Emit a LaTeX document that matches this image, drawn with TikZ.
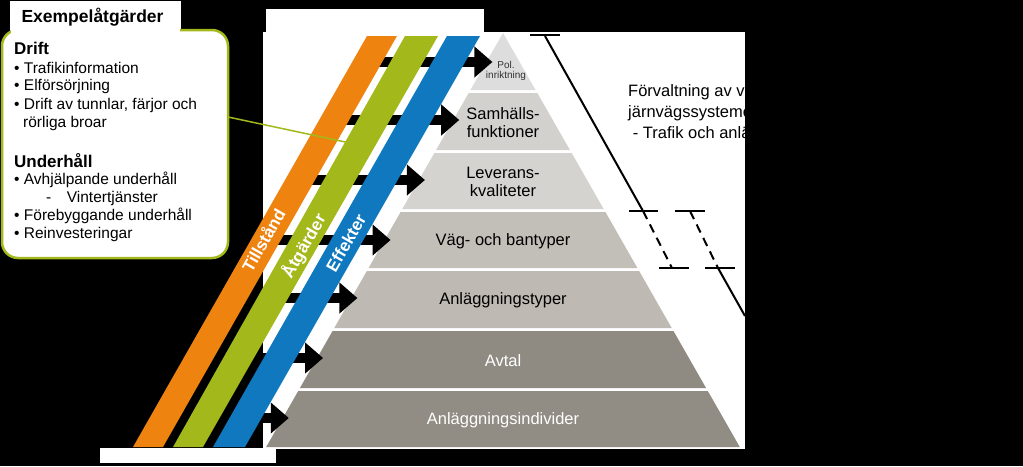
\documentclass[tikz,border=0pt]{standalone}
\usepackage{fontspec}
\setmainfont{Liberation Sans}
\usetikzlibrary{arrows.meta}

\definecolor{tsorange}{HTML}{EE8310}
\definecolor{tsgreen}{HTML}{A3B81A}
\definecolor{tsblue}{HTML}{0F78BE}

\begin{document}
\begin{tikzpicture}[
  x=1pt, y=-1pt,
  lvltxt/.style={text centered, font=\fontsize{16.5}{18}\selectfont, align=center},
  stripetxt/.style={text=white, font=\bfseries\fontsize{17}{19}\selectfont, rotate=60.3},
  boxtxt/.style={anchor=west, font=\fontsize{15.5}{17}\selectfont, inner sep=0pt},
  arw/.style={-{Triangle[length=18pt,width=30pt]}, line width=10pt},
  tick/.style={line width=2pt},
  dashline/.style={line width=2pt, dash pattern=on 9pt off 6pt}
  ]

% background and white panels
\fill [black] (0,0) rectangle (1023,466);
\fill [white] (266,9) rectangle (484,33);
\fill [white] (263,32) rectangle (745,449);
\fill [white] (100,448) rectangle (276,463);

% pyramid layers
\foreach \yt/\yb/\col/\tc/\name/\lab in {
  33/90/DDDDDD/black/l1/{},
  93/150/D2D1CE/black/l2/{Samhälls-\\funktioner},
  153/209/D4D3CF/black/l3/{Leverans-\\kvaliteter},
  212/268/C2BEB8/black/l4/{Väg- och bantyper},
  271/328/BEB9B2/black/l5/{Anläggningstyper},
  331/388/8F8A82/white/l6/{Avtal},
  391/447/918C84/white/l7/{Anläggningsindivider}} {
  \definecolor{lvl}{HTML}{\col}
  \fill [lvl] ({503-0.572*(\yt-33)},\yt) -- ({503+0.572*(\yt-33)},\yt)
    -- ({503+0.572*(\yb-33)},\yb) -- ({503-0.572*(\yb-33)},\yb) -- cycle;
  \node [lvltxt, text=\tc] (\name) at (503,{(\yt+\yb)/2+1}) {\lab};
}
\node [lvltxt, font=\fontsize{10}{10.5}\selectfont, text=black!80] (pol) at (506,71) {Pol.\\inriktning};

% arrows into the pyramid (behind the stripes)
\foreach \ya/\n in {62/1,120/2,180/3,240/4,298/5,358/6,418/7} {
  \coordinate (s\n) at ({367-0.569*(\ya-36)+10},\ya);
  \coordinate (e\n) at ({503-0.572*(\ya-33)+6},\ya);
  \draw [arw] (s\n) -- (e\n);
}

% stripes
\fill [tsorange] (367,36) -- (397,36) -- (163,447) -- (133,447) -- cycle;
\fill [tsgreen] (405,36) -- (438,36) -- (203,447) -- (173,447) -- cycle;
\fill [tsblue] (447,36) -- (480,36) -- (245,447) -- (213,447) -- cycle;
\node [stripetxt] (tillst) at (263,240) {Tillstånd};
\node [stripetxt] (atg) at (304,246) {Åtgärder};
\node [stripetxt] (eff) at (346,243) {Effekter};

% example box
\fill [white] (10,1) rectangle (181,33);
\node [anchor=west, font=\bfseries\fontsize{17.5}{19}\selectfont] (head) at (18,17) {Exempelåtgärder};
\draw [tsgreen, line width=2.5pt, fill=white, rounded corners=16pt] (2,30) rectangle (228,258);
\fill [white] (11,28) rectangle (180,33);
\coordinate (boxout) at (228,117);
\coordinate (stripein) at (350,143);
\draw [tsgreen, line width=1.5pt] (boxout) -- (stripein);

\node [boxtxt, font=\bfseries\fontsize{17}{19}\selectfont] (drift) at (14,48) {Drift};
\node [boxtxt] (d1) at (14,68) {• Trafikinformation};
\node [boxtxt] (d2) at (14,86) {• Elförsörjning};
\node [boxtxt] (d3) at (14,105) {• Drift av tunnlar, färjor och};
\node [boxtxt] (d4) at (23,123) {rörliga broar};
\node [boxtxt, font=\bfseries\fontsize{17}{19}\selectfont] (uh) at (14,161) {Underhåll};
\node [boxtxt] (u1) at (14,180) {• Avhjälpande underhåll};
\node [boxtxt] (u2) at (46,198) {-\quad Vintertjänster};
\node [boxtxt] (u3) at (14,216) {• Förebyggande underhåll};
\node [boxtxt] (u4) at (14,234) {• Reinvesteringar};

% right side bracket lines
\coordinate (ta) at (545,36);
\coordinate (tb) at (643,211);
\coordinate (tc) at (672,268);
\coordinate (td) at (690,211);
\coordinate (te) at (718,268);
\coordinate (tf) at (745,316);
\draw [tick] (530,35) -- (560,35);
\draw [tick] (ta) -- (tb);
\draw [tick] (629,211) -- (658,211);
\draw [tick] (675,211) -- (705,211);
\draw [tick] (659,268) -- (689,268);
\draw [tick] (705,268) -- (735,268);
\draw [dashline] (tb) -- (tc);
\draw [dashline] (td) -- (te);
\draw [tick] (te) -- (tf);

\begin{scope}
  \clip (263,32) rectangle (745,449);
  \node [anchor=north west, align=left, inner sep=0pt, font=\fontsize{16.5}{21}\selectfont] (forv) at (628,84)
    {Förvaltning av vägsystemet\\järnvägssystemet\\\ - Trafik och anläggning};
\end{scope}

\end{tikzpicture}
\end{document}
